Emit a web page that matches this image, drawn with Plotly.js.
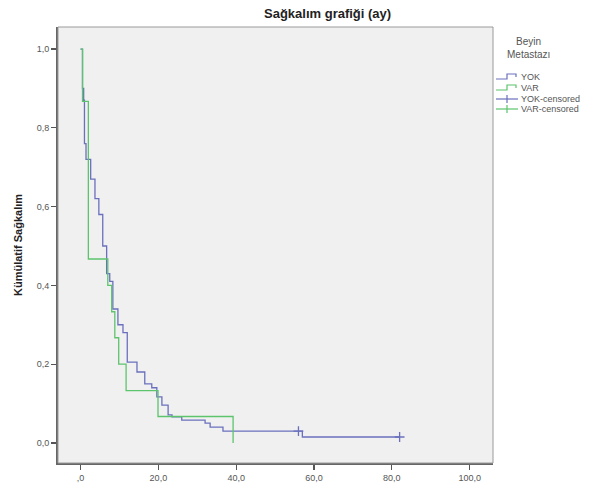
<!DOCTYPE html>
<html>
<head>
<meta charset="utf-8">
<script src="https://cdn.plot.ly/plotly-3.0.1.min.js"></script>
<style>html,body{margin:0;padding:0;background:#fff}#chart{width:596px;height:491px}</style>
</head>
<body>
<div id="chart"></div>
<script>
// ---- data ----
const xTickVals = [0, 20, 40, 60, 80, 100];
const xTickText = [",0", "20,0", "40,0", "60,0", "80,0", "100,0"];
const yTickVals = [0, 0.2, 0.4, 0.6, 0.8, 1.0];
const yTickText = ["0,0", "0,2", "0,4", "0,6", "0,8", "1,0"];

// YOK (no brain metastasis) survival steps: time (months), cumulative survival after step
const yokTime = [0, 0.5, 0.8, 1.0, 1.4, 2.6, 3.7, 4.7, 5.7, 6.7, 7.5, 8.3, 9.6, 10.9, 12.0, 14.5, 16.5, 18.3, 19.6, 20.9, 22.5, 23.5, 26.0, 32.0, 33.3, 36.6, 57.0, 82.0];
const yokSurv = [1.0, 0.90, 0.87, 0.76, 0.72, 0.67, 0.62, 0.58, 0.50, 0.43, 0.41, 0.34, 0.30, 0.28, 0.205, 0.18, 0.15, 0.14, 0.117, 0.096, 0.071, 0.066, 0.058, 0.05, 0.04, 0.03, 0.015, 0.015];
const yokCensTime = [56.0, 82.0];
const yokCensSurv = [0.03, 0.015];

// VAR (brain metastasis present)
const varTime = [0, 0.5, 2.0, 7.0, 8.0, 8.8, 9.8, 11.7, 19.9, 39.2];
const varSurv = [1.0, 0.867, 0.467, 0.40, 0.333, 0.267, 0.20, 0.133, 0.067, 0.0];

const seriesNames = ["YOK", "VAR", "YOK-censored", "VAR-censored"];
const legendTitle = ["Beyin", "Metastazı"];
const chartTitle = "Sağkalım grafiği (ay)";
const yTitle = "Kümülatif Sağkalım";

// ---- styling ----
const BLUE = "#6a70bd";
const GREEN = "#5cc46c";
const FONT = "Liberation Sans, Arial, sans-serif";
const W = 596, H = 491;
const M = {l: 58, r: 103, t: 27, b: 28};
const PW = W - M.l - M.r, PH = H - M.t - M.b;
const px2x = px => (px - M.l) / PW;
const py2y = py => (M.t + PH - py) / PH;

const traces = [
  {x: yokTime, y: yokSurv, type: "scatter", mode: "lines", line: {shape: "hv", color: BLUE, width: 1.3}, name: seriesNames[0], showlegend: false},
  {x: varTime, y: varSurv, type: "scatter", mode: "lines", line: {shape: "hv", color: GREEN, width: 1.3}, name: seriesNames[1], showlegend: false},
  {x: yokCensTime, y: yokCensSurv, type: "scatter", mode: "markers", marker: {symbol: "cross-thin", size: 7, line: {color: BLUE, width: 1.3}}, name: seriesNames[2], showlegend: false}
];

// manual legend
const shapes = [
  {type: "rect", xref: "paper", yref: "paper", x0: 0, x1: 1, y0: 0, y1: 1, line: {color: "#9a9a9a", width: 1}, layer: "above"}
];
const annotations = [
  {text: "<b>" + chartTitle + "</b>", xref: "paper", yref: "paper", x: px2x(327), y: py2y(13), showarrow: false, xanchor: "center", yanchor: "middle", font: {family: FONT, size: 13, color: "#222"}},
  {text: "<b>" + yTitle + "</b>", xref: "paper", yref: "paper", x: px2x(18), y: 0.5, textangle: -90, showarrow: false, xanchor: "center", yanchor: "middle", font: {family: FONT, size: 11, color: "#222"}},
  {text: legendTitle[0], xref: "paper", yref: "paper", x: px2x(528), y: py2y(42), showarrow: false, xanchor: "center", yanchor: "middle", font: {family: FONT, size: 10, color: "#555"}},
  {text: legendTitle[1], xref: "paper", yref: "paper", x: px2x(528), y: py2y(54), showarrow: false, xanchor: "center", yanchor: "middle", font: {family: FONT, size: 10, color: "#555"}}
];
const legY = [77, 88, 99, 109];
const legCol = [BLUE, GREEN, BLUE, GREEN];
seriesNames.forEach((nm, i) => {
  annotations.push({text: nm, xref: "paper", yref: "paper", x: px2x(519), y: py2y(legY[i]), showarrow: false, xanchor: "left", yanchor: "middle", font: {family: FONT, size: 9, color: "#555"}});
  const y = legY[i];
  if (i < 2) {
    shapes.push({type: "path", xref: "paper", yref: "paper",
      path: `M ${px2x(496)} ${py2y(y + 2)} L ${px2x(507)} ${py2y(y + 2)} L ${px2x(507)} ${py2y(y - 3)} L ${px2x(516)} ${py2y(y - 3)} L ${px2x(516)} ${py2y(y)}`,
      line: {color: legCol[i], width: 1.2}});
  } else {
    shapes.push({type: "line", xref: "paper", yref: "paper", x0: px2x(496), x1: px2x(518), y0: py2y(y), y1: py2y(y), line: {color: legCol[i], width: 1.2}});
    shapes.push({type: "line", xref: "paper", yref: "paper", x0: px2x(507), x1: px2x(507), y0: py2y(y - 4), y1: py2y(y + 4), line: {color: legCol[i], width: 1.2}});
  }
});

const tickFont = {family: FONT, size: 9, color: "#555"};
const layout = {
  width: W, height: H,
  margin: M,
  paper_bgcolor: "#ffffff",
  plot_bgcolor: "#f0f0f0",
  showlegend: false,
  xaxis: {range: [-5.8, 106], tickvals: xTickVals, ticktext: xTickText, ticks: "outside", ticklen: 5, tickwidth: 1.2, tickcolor: "#555",
    showgrid: false, zeroline: false, showline: true, linecolor: "#666", linewidth: 2, tickfont: tickFont},
  yaxis: {range: [-0.051, 1.056], tickvals: yTickVals, ticktext: yTickText, ticks: "outside", ticklen: 5, tickwidth: 1.2, tickcolor: "#555",
    showgrid: false, zeroline: false, showline: true, linecolor: "#666", linewidth: 2, tickfont: tickFont},
  shapes: shapes,
  annotations: annotations
};
Plotly.newPlot("chart", traces, layout, {displayModeBar: false, staticPlot: true});
</script>
</body>
</html>
